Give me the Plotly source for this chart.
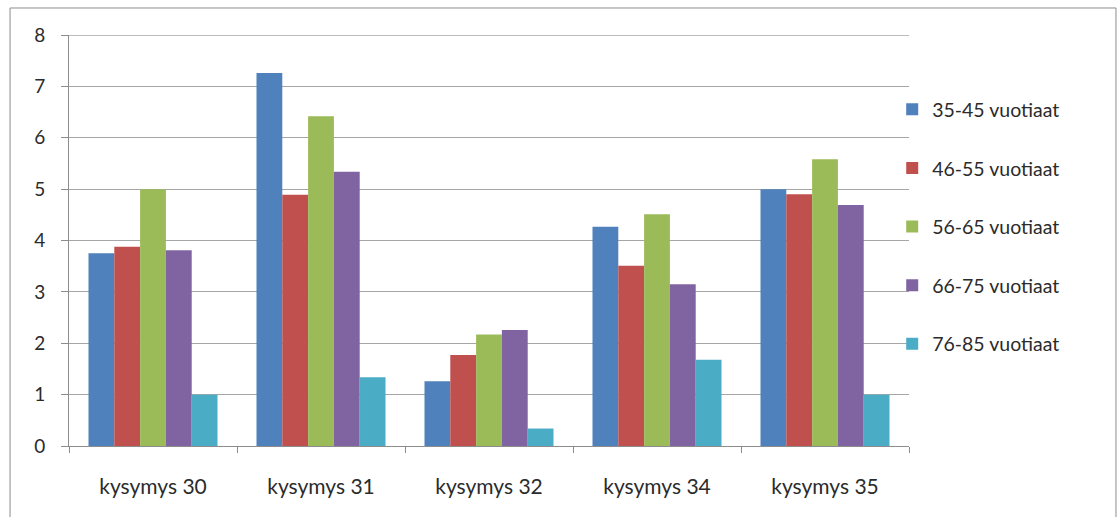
import plotly.graph_objects as go

# Survey answers by age group
categories = ["kysymys 30", "kysymys 31", "kysymys 32", "kysymys 34", "kysymys 35"]
age_groups = ["35-45 vuotiaat", "46-55 vuotiaat", "56-65 vuotiaat", "66-75 vuotiaat", "76-85 vuotiaat"]
values_35_45 = [3.75, 7.26, 1.26, 4.27, 5.00]
values_46_55 = [3.88, 4.89, 1.77, 3.51, 4.90]
values_56_65 = [5.00, 6.42, 2.17, 4.51, 5.58]
values_66_75 = [3.81, 5.34, 2.26, 3.15, 4.69]
values_76_85 = [1.00, 1.34, 0.34, 1.68, 1.00]
y_ticks = [0, 1, 2, 3, 4, 5, 6, 7, 8]

series = [values_35_45, values_46_55, values_56_65, values_66_75, values_76_85]
colors = ["#4F81BD", "#C0504D", "#9BBB59", "#8064A2", "#4BACC6"]

FONT = "Lato"
TEXT = "#2b2b2b"
GRID = "#a6a6a6"
fig = go.Figure()
for i, (name, vals, col) in enumerate(zip(age_groups, series, colors)):
    fig.add_trace(go.Bar(
        x=categories, y=vals, name=name,
        marker=dict(color=col, line=dict(width=0)),
        legendgroup=f"g{i}",
    ))

# outer frame around the chart
fig.add_shape(type="rect", xref="paper", yref="paper",
              x0=-0.0702, x1=1.2464, y0=-0.3, y1=1.0657,
              line=dict(color="#8c8c8c", width=1), fillcolor="rgba(0,0,0,0)",
              layer="below")
# gridline at the top of the value axis
fig.add_shape(type="line", xref="paper", yref="y",
              x0=0, x1=1, y0=y_ticks[-1], y1=y_ticks[-1],
              line=dict(color=GRID, width=1.3), layer="below")

fig.update_layout(
    width=1117, height=517,
    margin=dict(l=69, r=208, t=35, b=71),
    paper_bgcolor="white", plot_bgcolor="white",
    barmode="group", bargap=0.232, bargroupgap=0,
    font=dict(family=FONT, size=18, color=TEXT),
    showlegend=True,
    legend=dict(
        x=0.9800, xanchor="left", y=0.866, yanchor="top",
        font=dict(family=FONT, size=19.5, color=TEXT),
        tracegroupgap=30.3, bgcolor="rgba(0,0,0,0)",
    ),
    xaxis=dict(
        showline=True, linecolor="#8c8c8c", linewidth=1,
        ticks="outside", tickson="boundaries", ticklen=6, tickcolor="#8c8c8c",
        tickfont=dict(family=FONT, size=21, color=TEXT),
        ticklabelstandoff=22,
        showgrid=False,
    ),
    yaxis=dict(
        range=[0, 8], tickvals=y_ticks, ticktext=[str(v) for v in y_ticks],
        showline=True, linecolor="#8c8c8c", linewidth=1,
        ticks="outside", ticklen=7, tickcolor="#8c8c8c",
        showgrid=True, gridcolor=GRID, gridwidth=1.3,
        zeroline=False,
        ticklabelstandoff=12,
        tickfont=dict(family=FONT, size=19, color=TEXT),
    ),
)

fig.write_html("out.html")
